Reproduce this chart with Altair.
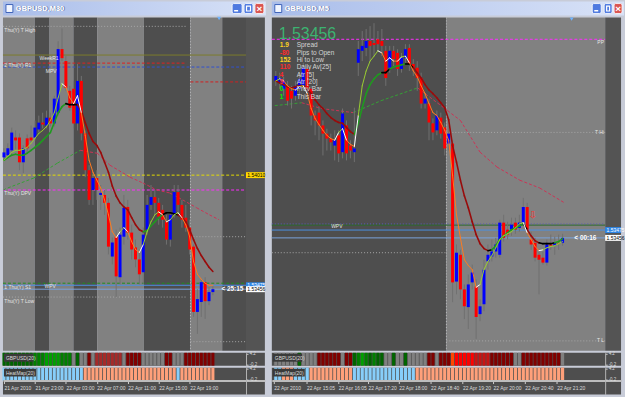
import json
import altair as alt
import pandas as pd

FONT = "Liberation Sans"

# ======================= LEFT WINDOW : GBPUSD,M30 =======================
L_title = "GBPUSD,M30"
L_open = [1.54090, 1.54100, 1.54124, 1.54186, 1.54186, 1.54066, 1.54182, 1.54186, 1.54186, 1.54225,
          1.54258, 1.54244, 1.54282, 1.54254, 1.54306, 1.54614, 1.54556, 1.54412, 1.54422, 1.54254,
          1.54460, 1.54206, 1.54028, 1.53932, 1.53990, 1.53908, 1.53908, 1.53870, 1.53610, 1.53706,
          1.53510, 1.53706, 1.53850, 1.53726, 1.53654, 1.53596, 1.53534, 1.53740, 1.53860, 1.53898,
          1.53870, 1.53836, 1.53778, 1.53692, 1.53812, 1.53922, 1.53860, 1.53798, 1.53750, 1.53658,
          1.53342, 1.53390, 1.53486, 1.53394, 1.53438]
L_close = [1.54114, 1.54134, 1.54210, 1.54172, 1.54066, 1.54134, 1.54134, 1.54172, 1.54234, 1.54258,
           1.54249, 1.54282, 1.54254, 1.54374, 1.54614, 1.54570, 1.54426, 1.54330, 1.54254, 1.54460,
           1.54206, 1.54028, 1.53884, 1.53990, 1.53932, 1.53918, 1.53870, 1.53658, 1.53678, 1.53514,
           1.53716, 1.53846, 1.53726, 1.53644, 1.53596, 1.53524, 1.53716, 1.53860, 1.53898, 1.53870,
           1.53802, 1.53788, 1.53692, 1.53812, 1.53922, 1.53860, 1.53788, 1.53750, 1.53644, 1.53342,
           1.53404, 1.53486, 1.53394, 1.53438, 1.53452]
L_high = [1.54134, 1.54158, 1.54234, 1.54220, 1.54206, 1.54148, 1.54201, 1.54244, 1.54268, 1.54292,
          1.54306, 1.54316, 1.54306, 1.54388, 1.54652, 1.54714, 1.54580, 1.54436, 1.54460, 1.54542,
          1.54484, 1.54220, 1.54052, 1.54018, 1.54028, 1.53956, 1.53932, 1.53894, 1.53702, 1.53740,
          1.53750, 1.53908, 1.53884, 1.53764, 1.53692, 1.53644, 1.53750, 1.53908, 1.53956, 1.53932,
          1.53894, 1.53860, 1.53812, 1.53826, 1.53956, 1.53956, 1.53884, 1.53860, 1.53788, 1.53668,
          1.53452, 1.53500, 1.53510, 1.53462, 1.53466]
L_low = [1.54076, 1.54086, 1.54100, 1.54124, 1.54028, 1.54014, 1.54114, 1.54162, 1.54172, 1.54210,
         1.54230, 1.54230, 1.54239, 1.54239, 1.54292, 1.54556, 1.54412, 1.54316, 1.54230, 1.54220,
         1.54172, 1.53994, 1.53860, 1.53860, 1.53884, 1.53836, 1.53812, 1.53620, 1.53572, 1.53414,
         1.53476, 1.53668, 1.53692, 1.53596, 1.53558, 1.53476, 1.53476, 1.53716, 1.53836, 1.53812,
         1.53764, 1.53750, 1.53668, 1.53658, 1.53798, 1.53826, 1.53750, 1.53730, 1.53620, 1.53318,
         1.53236, 1.53318, 1.53308, 1.53375, 1.53423]
L_slow = [1.54076, 1.54090, 1.54100, 1.54105, 1.54100, 1.54100, 1.54110, 1.54124, 1.54138, 1.54153,
          1.54172, 1.54191, 1.54210, 1.54258, 1.54306, 1.54335, 1.54350, 1.54345, 1.54345, 1.54345,
          1.54316, 1.54258, 1.54206, 1.54167, 1.54148, 1.54114, 1.54066, 1.54018, 1.53951, 1.53903,
          1.53870, 1.53850, 1.53836, 1.53798, 1.53764, 1.53740, 1.53730, 1.53735, 1.53759, 1.53778,
          1.53798, 1.53812, 1.53822, 1.53822, 1.53817, 1.53812, 1.53798, 1.53778, 1.53740, 1.53692,
          1.53649, 1.53615, 1.53586, 1.53558, 1.53538]
L_slow_runs = [("g", 16), ("k", 3), ("r", 17), ("g", 5), ("k", 4), ("r", 9)]
L_fast = [1.54076, 1.54095, 1.54114, 1.54124, 1.54124, 1.54129, 1.54138, 1.54158, 1.54182, 1.54206,
          1.54220, 1.54239, 1.54268, 1.54306, 1.54378, 1.54446, 1.54431, 1.54378, 1.54350, 1.54388,
          1.54306, 1.54196, 1.54076, 1.54018, 1.53980, 1.53942, 1.53884, 1.53812, 1.53730, 1.53702,
          1.53730, 1.53750, 1.53730, 1.53682, 1.53644, 1.53630, 1.53668, 1.53730, 1.53778, 1.53812,
          1.53826, 1.53812, 1.53778, 1.53788, 1.53812, 1.53822, 1.53798, 1.53764, 1.53706, 1.53586,
          1.53524, 1.53500, 1.53481, 1.53471, 1.53471]
L_ma3_x = [-0.2, 1.0, 7.7, 13.8, 19.7, 24.1, 27.4, 32.6, 35.9, 39.5, 42.8, 46.2, 49.8, 53.1, 55.6]
L_ma3_p = [1.53932, 1.53942, 1.53990, 1.54062, 1.54124, 1.54110, 1.54052, 1.53994, 1.53966, 1.53932,
           1.53918, 1.53884, 1.53846, 1.53812, 1.53788]
L_ma3_runs = [("g", 4), ("r", 10)]
L_band_from = [-0.26, 7.95, 11.79, 17.95, 24.10, 36.15, 48.21, 56.41]
L_band_to = [7.95, 11.79, 17.95, 24.10, 36.15, 48.21, 56.41, 62.56]
L_band_kind = ["L", "D", "L", "D", "L", "D", "L", "D"]
L_lvl_price = [1.54724, 1.54585, 1.54546, 1.54527, 1.54455, 1.54004, 1.53932, 1.53706, 1.53481,
               1.53471, 1.53452, 1.53414, 1.53198]
L_lvl_from = [-0.26, -0.26, -0.26, -0.26, 48.21, -0.26, -0.26, 48.21, -0.26, -0.26, -0.26, -0.26, 48.21]
L_lvl_to = [47.2, 62.56, 47.2, 62.56, 62.56, 62.56, 62.56, 62.56, 62.56, 62.56, 62.56, 47.2, 62.56]
L_lvl_color = ["#a8a8a8", "#7c7c2c", "#e02020", "#3050d0", "#d02020", "#e6de00", "#ff2cff", "#a8a8a8",
               "#1f8f1f", "#4a90e2", "#7aa3dc", "#a8a8a8", "#a8a8a8"]
L_lvl_style = ["dot", "solid", "dash", "dash", "dash", "dash", "dash", "dot", "dash", "solid", "solid",
               "dot", "dot"]
L_lab_text = ["Thu(Y) T High", "WeekR1", "2 Thu(Y) R1", "MPV", "Thu(Y) DPV", "1 Thu(Y) S1", "WPV",
              "Thu(Y) T Low"]
L_lab_x = [0.1, 9.2, 0.1, 10.8, 0.1, 0.1, 10.5, 0.1]
L_lab_p = [1.54705, 1.54570, 1.54537, 1.54508, 1.53918, 1.53462, 1.53466, 1.53394]
L_ticks = [1.54690, 1.54615, 1.54540, 1.54465, 1.54390, 1.54315, 1.54235, 1.54160, 1.54085, 1.53935,
           1.53860, 1.53780, 1.53700, 1.53625, 1.53550, 1.53400, 1.53325, 1.53245, 1.53165]
L_tag_p = [1.54004, 1.53471, 1.53452]
L_tag_t = ["1.54010", "1.53475", "1.53456"]
L_tag_bg = ["#ffd800", "#2f86e6", "#ffffff"]
L_tag_fg = ["#000000", "#ffffff", "#000000"]
L_clock = ("<  25:15", 56.2, 1.53452)
L_marker = (55.6, 1.54762)
L_strip1_runs = [("G", 8), ("g", 3), ("l", 4), ("g", 3), ("x", 1), ("G", 1), ("x", 2), ("r", 1), ("x", 1),
                 ("b", 7), ("x", 1), ("r", 4), ("x", 6), ("r", 2), ("x", 3), ("r", 8)]
L_strip2_runs = [("c", 21), ("s", 24), ("c", 1), ("s", 9)]
L_date_pos = [0, 8, 16, 24, 32, 40, 48]
L_date_lab = ["21 Apr 2010", "21 Apr 23:00", "22 Apr 03:00", "22 Apr 07:00", "22 Apr 11:00",
              "22 Apr 15:00", "22 Apr 19:00"]

# ======================= RIGHT WINDOW : GBPUSD,M5 =======================
R_title = "GBPUSD,M5"
R_open = [1.53833, 1.53828, 1.53814, 1.53821, 1.53809, 1.53797, 1.53814, 1.53821, 1.53862, 1.53814,
          1.53749, 1.53756, 1.53725, 1.53705, 1.53693, 1.53676, 1.53701, 1.53660, 1.53725, 1.53676,
          1.53660, 1.53877, 1.53906, 1.53913, 1.53930, 1.53925, 1.53934, 1.53930, 1.53906, 1.53865,
          1.53906, 1.53901, 1.53862, 1.53889, 1.53913, 1.53874, 1.53865, 1.53840, 1.53778, 1.53778,
          1.53730, 1.53713, 1.53744, 1.53720, 1.53681, 1.53681, 1.53346, 1.53411, 1.53327, 1.53284,
          1.53344, 1.53334, 1.53267, 1.53291, 1.53395, 1.53407, 1.53419, 1.53411, 1.53489, 1.53472,
          1.53472, 1.53489, 1.53476, 1.53489, 1.53527, 1.53448, 1.53440, 1.53411, 1.53404, 1.53392,
          1.53436, 1.53433, 1.53440, 1.53440]
R_close = [1.53845, 1.53840, 1.53833, 1.53785, 1.53790, 1.53821, 1.53838, 1.53865, 1.53814, 1.53749,
           1.53737, 1.53725, 1.53705, 1.53693, 1.53684, 1.53689, 1.53657, 1.53754, 1.53657, 1.53664,
           1.53669, 1.53910, 1.53918, 1.53930, 1.53918, 1.53920, 1.53922, 1.53918, 1.53840, 1.53906,
           1.53886, 1.53862, 1.53889, 1.53910, 1.53874, 1.53865, 1.53840, 1.53778, 1.53790, 1.53732,
           1.53708, 1.53749, 1.53705, 1.53669, 1.53705, 1.53344, 1.53416, 1.53327, 1.53286, 1.53339,
           1.53368, 1.53260, 1.53286, 1.53375, 1.53411, 1.53419, 1.53436, 1.53489, 1.53452, 1.53460,
           1.53484, 1.53472, 1.53489, 1.53527, 1.53472, 1.53436, 1.53404, 1.53399, 1.53392, 1.53436,
           1.53433, 1.53440, 1.53438, 1.53452]
R_high = [1.53857, 1.53853, 1.53843, 1.53833, 1.53821, 1.53833, 1.53853, 1.53877, 1.53869, 1.53821,
          1.53761, 1.53773, 1.53737, 1.53717, 1.53705, 1.53713, 1.53713, 1.53766, 1.53737, 1.53689,
          1.53768, 1.53930, 1.53954, 1.53959, 1.53966, 1.53973, 1.53954, 1.53959, 1.53918, 1.53918,
          1.53918, 1.53910, 1.53901, 1.53922, 1.53922, 1.53886, 1.53881, 1.53853, 1.53804, 1.53790,
          1.53742, 1.53761, 1.53756, 1.53732, 1.53725, 1.53689, 1.53436, 1.53423, 1.53339, 1.53363,
          1.53387, 1.53351, 1.53303, 1.53399, 1.53436, 1.53448, 1.53452, 1.53496, 1.53508, 1.53491,
          1.53501, 1.53501, 1.53508, 1.53549, 1.53537, 1.53467, 1.53452, 1.53423, 1.53419, 1.53448,
          1.53460, 1.53455, 1.53460, 1.53462]
R_low = [1.53821, 1.53814, 1.53797, 1.53773, 1.53766, 1.53785, 1.53797, 1.53809, 1.53797, 1.53725,
         1.53701, 1.53689, 1.53652, 1.53664, 1.53664, 1.53640, 1.53636, 1.53645, 1.53640, 1.53645,
         1.53636, 1.53845, 1.53881, 1.53893, 1.53881, 1.53893, 1.53906, 1.53893, 1.53821, 1.53853,
         1.53869, 1.53845, 1.53853, 1.53877, 1.53857, 1.53845, 1.53809, 1.53766, 1.53766, 1.53689,
         1.53689, 1.53701, 1.53693, 1.53652, 1.53664, 1.53296, 1.53315, 1.53303, 1.53255, 1.53231,
         1.53327, 1.53207, 1.53250, 1.53274, 1.53375, 1.53395, 1.53404, 1.53404, 1.53443, 1.53448,
         1.53457, 1.53462, 1.53467, 1.53481, 1.53460, 1.53423, 1.53395, 1.53315, 1.53387, 1.53385,
         1.53423, 1.53411, 1.53423, 1.53433]
R_slow = [1.53833, 1.53828, 1.53824, 1.53819, 1.53816, 1.53819, 1.53821, 1.53821, 1.53814, 1.53802,
          1.53787, 1.53775, 1.53766, 1.53754, 1.53744, 1.53737, 1.53732, 1.53730, 1.53720, 1.53710,
          1.53703, 1.53730, 1.53768, 1.53802, 1.53824, 1.53838, 1.53848, 1.53853, 1.53853, 1.53862,
          1.53867, 1.53869, 1.53872, 1.53874, 1.53874, 1.53865, 1.53853, 1.53840, 1.53824, 1.53811,
          1.53802, 1.53792, 1.53780, 1.53768, 1.53739, 1.53676, 1.53636, 1.53592, 1.53554, 1.53525,
          1.53491, 1.53460, 1.53438, 1.53426, 1.53421, 1.53423, 1.53433, 1.53448, 1.53457, 1.53464,
          1.53472, 1.53476, 1.53481, 1.53486, 1.53472, 1.53457, 1.53445, 1.53440, 1.53438, 1.53438,
          1.53438, 1.53440, 1.53443, 1.53450]
R_slow_runs = [("r", 20), ("g", 7), ("k", 2), ("g", 4), ("k", 2), ("r", 19), ("k", 1), ("g", 8),
               ("k", 1), ("r", 3), ("k", 4), ("g", 2)]
R_fast = [1.53833, 1.53838, 1.53833, 1.53821, 1.53814, 1.53811, 1.53819, 1.53821, 1.53802, 1.53766,
          1.53742, 1.53727, 1.53713, 1.53701, 1.53693, 1.53689, 1.53708, 1.53717, 1.53689, 1.53679,
          1.53674, 1.53749, 1.53821, 1.53857, 1.53881, 1.53893, 1.53906, 1.53901, 1.53881, 1.53889,
          1.53881, 1.53881, 1.53891, 1.53893, 1.53877, 1.53857, 1.53843, 1.53821, 1.53802, 1.53778,
          1.53756, 1.53749, 1.53732, 1.53713, 1.53689, 1.53604, 1.53508, 1.53452, 1.53399, 1.53385,
          1.53375, 1.53332, 1.53339, 1.53375, 1.53395, 1.53409, 1.53428, 1.53448, 1.53457, 1.53462,
          1.53467, 1.53476, 1.53486, 1.53489, 1.53464, 1.53448, 1.53431, 1.53421, 1.53423, 1.53428,
          1.53431, 1.53433, 1.53438, 1.53443]
R_ma3_x = [-0.25, 6.6, 11.6, 19.7, 26.8, 36.1, 43.7, 47.0, 52.0, 56.3, 62.1, 67.2, 73.5]
R_ma3_p = [1.53773, 1.53780, 1.53766, 1.53756, 1.53785, 1.53816, 1.53761, 1.53737, 1.53660, 1.53624,
           1.53592, 1.53573, 1.53537]
R_ma3_runs = [("g", 1), ("r", 2), ("g", 2), ("r", 7)]
R_band_from = [-1.01, 43.43]
R_band_to = [43.43, 83.84]
R_band_kind = ["D", "L"]
R_lvl_price = [1.53934, 1.53708, 1.53486, 1.53483, 1.53471, 1.53452, 1.53416, 1.53202]
R_lvl_from = [-1.01, 43.43, -1.01, -1.01, -1.01, -1.01, -1.01, 43.43]
R_lvl_to = [83.84, 83.84, 83.84, 83.84, 83.84, 83.84, 43.43, 83.84]
R_lvl_color = ["#ff2cff", "#a8a8a8", "#5a5ab8", "#2a6a2a", "#4a90e2", "#7aa3dc", "#a8a8a8", "#a8a8a8"]
R_lvl_style = ["dash", "dot", "dot", "solid", "solid", "solid", "dot", "dot"]
R_lab_text = ["WPV"]
R_lab_x = [14.1]
R_lab_p = [1.53481]
R_rlab_text = ["PP", "T Hi", "T L"]
R_rlab_p = [1.53927, 1.53708, 1.53204]
R_ticks = [1.53985, 1.53945, 1.53905, 1.53865, 1.53825, 1.53785, 1.53745, 1.53705, 1.53665, 1.53625,
           1.53585, 1.53545, 1.53505, 1.53425, 1.53385, 1.53345, 1.53305, 1.53265, 1.53225, 1.53185]
R_tag_p = [1.53471, 1.53452]
R_tag_t = ["1.53475", "1.53456"]
R_tag_bg = ["#2f86e6", "#ffffff"]
R_tag_fg = ["#ffffff", "#000000"]
R_clock = ("<  00:16", 76.0, 1.53452)
R_marker = (75.3, 1.53983)
R_arrow = ("\u21e9", 65.4, 1.53508)
R_strip1_runs = [("x", 6), ("G", 1), ("x", 4), ("r", 6), ("x", 1), ("r", 2), ("G", 1), ("g", 1), ("l", 1),
                 ("g", 1), ("G", 1), ("g", 1), ("G", 2), ("x", 2), ("G", 1), ("x", 2), ("G", 1), ("x", 5),
                 ("r", 2), ("x", 1), ("r", 3), ("o", 1), ("R", 5), ("m", 4), ("r", 6), ("x", 2), ("r", 10),
                 ("x", 1)]
R_strip2_runs = [("c", 2), ("s", 3), ("c", 4), ("s", 11), ("c", 16), ("s", 38)]
R_date_pos = [-0.5, 7.8, 15.9, 23.5, 31.3, 39.4, 47.5, 55.3, 63.4, 71.5]
R_date_lab = ["22 Apr 2010", "22 Apr 15:05", "22 Apr 16:05", "22 Apr 17:20", "22 Apr 18:00",
              "22 Apr 18:40", "22 Apr 19:20", "22 Apr 20:00", "22 Apr 20:40", "22 Apr 21:20"]
R_info_price = "1.53456"
R_info_value = ["1.9", "-80", "152", "110", "4", "9", "0", "1"]
R_info_vcolor = ["#ffd21f", "#ff2a2a", "#ffd21f", "#ff2a2a", "#ff2a2a", "#ff2a2a", "#00ee00", "#00ee00"]
R_info_label = ["Spread", "Pips to Open", "Hi to Low", "Daily Av[25]", "Atr [5]", "Atr [20]",
                "Prev Bar", "This Bar"]

# ======================= styling =======================
BAND_COL = {"L": "#818181", "D": "#4e4e4e"}
AXIS_BG = "#545454"
WICK = "#707070"
SLOW_COL = {"g": "#1f9a1f", "k": "#000000", "r": "#990b0b"}
MA3_COL = {"g": "#35a035", "r": "#cc3355"}
STRIP_COL = {"G": "#006400", "g": "#008000", "l": "#00a000", "x": "#808080", "r": "#800000",
             "b": "#a52a2a", "R": "#ff0000", "o": "#ff4500", "m": "#c81414", "c": "#87cefa",
             "s": "#ffa07a"}
DUMMY = pd.DataFrame({"k": [0]})


def runs_to_list(runs, cmap):
    out = []
    for code, n in runs:
        out += [cmap[code]] * n
    return out


def seg_df(xs, ys, cols):
    return pd.DataFrame({"x": list(xs[:-1]), "x2": list(xs[1:]), "y": list(ys[:-1]),
                         "y2": list(ys[1:]), "col": cols})


def fast_colors(v, up="#9acd32", dn="#ff7a1f", turn="#ffffff"):
    dirs, prev = [], 1
    for a, b in zip(v[:-1], v[1:]):
        d = 1 if b > a else (-1 if b < a else prev)
        dirs.append(d)
        prev = d
    cols = []
    for k, d in enumerate(dirs):
        if k > 0 and d != dirs[k - 1]:
            cols.append(turn)
        else:
            cols.append(up if d > 0 else dn)
    return cols


def main_panel(P):
    xs = alt.Scale(domain=P["xdom"], nice=False, zero=False)
    ys = alt.Scale(domain=P["ydom"], nice=False, zero=False)
    yax = alt.Axis(orient="right", offset=P["axoff"], values=P["ticks"], format=".5f",
                   labelFont=FONT, labelFontSize=5, labelColor="#ececec", labelPadding=1,
                   labelOverlap=False, labelFlush=False, tickColor="#d0d0d0", tickSize=2,
                   domainColor="#b4b4b4", domainWidth=1, grid=False, title=None, zindex=1)

    def X(f):
        return alt.X(f + ":Q", scale=xs, axis=None)

    def Y(f, ax=None):
        return alt.Y(f + ":Q", scale=ys, axis=ax)

    C = alt.Color("col:N", scale=None)
    layers = []
    bands = pd.DataFrame({"a": P["band_from"], "b": P["band_to"],
                          "col": [BAND_COL[k] for k in P["band_kind"]]})
    layers.append(alt.Chart(bands).mark_rect().encode(x=X("a"), x2=alt.X2("b:Q"), color=C))
    strip = pd.DataFrame({"a": [P["sep"]], "b": [P["xdom"][1]]})
    layers.append(alt.Chart(strip).mark_rect(color=AXIS_BG).encode(x=X("a"), x2=alt.X2("b:Q")))
    vs = pd.DataFrame({"x": [P["vsep"]]})
    layers.append(alt.Chart(vs).mark_rule(color="#b8b8b8", strokeDash=[1, 2], strokeWidth=1)
                  .encode(x=X("x")))

    # horizontal level lines
    lv = pd.DataFrame({"p": P["lvl_price"], "a": P["lvl_from"], "b": P["lvl_to"],
                       "col": P["lvl_color"], "st": P["lvl_style"]})
    for st in ["solid", "dash", "dot"]:
        sub = lv[lv.st == st]
        if len(sub) == 0:
            continue
        if st == "solid":
            mk = alt.Chart(sub).mark_rule(strokeWidth=1)
        elif st == "dash":
            mk = alt.Chart(sub).mark_rule(strokeWidth=1, strokeDash=[3, 2])
        else:
            mk = alt.Chart(sub).mark_rule(strokeWidth=1, strokeDash=[1, 2])
        layers.append(mk.encode(x=X("a"), x2=alt.X2("b:Q"), y=Y("p"), color=C))

    # slow dashed MA
    m3 = seg_df(P["ma3_x"], P["ma3_p"], runs_to_list(P["ma3_runs"], MA3_COL))
    layers.append(alt.Chart(m3).mark_rule(strokeWidth=1, strokeDash=[3, 2])
                  .encode(x=X("x"), x2=alt.X2("x2:Q"), y=Y("y"), y2=alt.Y2("y2:Q"), color=C))

    # candles
    n = len(P["open"])
    cd = pd.DataFrame({"i": list(range(n)), "o": P["open"], "h": P["high"], "l": P["low"],
                       "c": P["close"],
                       "col": ["#0000ff" if c >= o else "#ff0000"
                               for o, c in zip(P["open"], P["close"])]})
    layers.append(alt.Chart(cd).mark_rule(color=WICK, strokeWidth=1)
                  .encode(x=X("i"), y=Y("l", yax), y2=alt.Y2("h:Q")))
    layers.append(alt.Chart(cd).mark_rule(strokeWidth=3, strokeCap="butt")
                  .encode(x=X("i"), y=Y("o"), y2=alt.Y2("c:Q"), color=C))

    # moving averages
    idx = list(range(n))
    sl = seg_df(idx, P["slow"], runs_to_list(P["slow_runs"], SLOW_COL))
    layers.append(alt.Chart(sl).mark_rule(strokeWidth=1.6, strokeCap="round")
                  .encode(x=X("x"), x2=alt.X2("x2:Q"), y=Y("y"), y2=alt.Y2("y2:Q"), color=C))
    fa = seg_df(idx, P["fast"], fast_colors(P["fast"]))
    layers.append(alt.Chart(fa).mark_rule(strokeWidth=1, strokeCap="round")
                  .encode(x=X("x"), x2=alt.X2("x2:Q"), y=Y("y"), y2=alt.Y2("y2:Q"), color=C))

    # level labels
    lb = pd.DataFrame({"x": P["lab_x"], "p": P["lab_p"], "t": P["lab_text"]})
    layers.append(alt.Chart(lb).mark_text(align="left", baseline="middle", font=FONT, fontSize=5,
                                          color="#e6e6e6")
                  .encode(x=X("x"), y=Y("p"), text="t:N"))
    if P.get("rlab_text"):
        rb = pd.DataFrame({"x": [P["sep"] - 0.3] * len(P["rlab_text"]), "p": P["rlab_p"],
                           "t": P["rlab_text"]})
        layers.append(alt.Chart(rb).mark_text(align="right", baseline="middle", font=FONT,
                                              fontSize=5, color="#e6e6e6")
                      .encode(x=X("x"), y=Y("p"), text="t:N"))

    # price tags on the scale
    k = len(P["tag_p"])
    tg = pd.DataFrame({"p": P["tag_p"], "t": P["tag_t"], "bg": P["tag_bg"], "fg": P["tag_fg"],
                       "a": [P["sep"]] * k, "b": [P["xdom"][1]] * k,
                       "tx": [P["sep"] + 0.35] * k})
    layers.append(alt.Chart(tg).mark_rule(strokeWidth=6, strokeCap="butt")
                  .encode(x=X("a"), x2=alt.X2("b:Q"), y=Y("p"),
                          color=alt.Color("bg:N", scale=None)))
    layers.append(alt.Chart(tg).mark_text(align="left", baseline="middle", font=FONT, fontSize=5)
                  .encode(x=X("tx"), y=Y("p"), text="t:N", color=alt.Color("fg:N", scale=None)))

    # bar countdown
    ck = pd.DataFrame({"t": [P["clock"][0]], "x": [P["clock"][1]], "p": [P["clock"][2]]})
    layers.append(alt.Chart(ck).mark_text(align="left", baseline="middle", font=FONT, fontSize=6.5,
                                          fontWeight="bold", color="#ffffff")
                  .encode(x=X("x"), y=Y("p"), text="t:N"))
    # chart-shift marker
    mk = pd.DataFrame({"x": [P["marker"][0]], "p": [P["marker"][1]]})
    layers.append(alt.Chart(mk).mark_point(shape="triangle-down", filled=True, size=16,
                                           color="#6fb3ff", opacity=1)
                  .encode(x=X("x"), y=Y("p")))

    if P.get("arrow"):
        ar = pd.DataFrame({"t": [P["arrow"][0]], "x": [P["arrow"][1]], "p": [P["arrow"][2]]})
        layers.append(alt.Chart(ar).mark_text(align="center", baseline="middle", font="DejaVu Sans",
                                              fontSize=10, color="#ff3030")
                      .encode(x=X("x"), y=Y("p"), text="t:N"))

    if P.get("info_price"):
        one = alt.Chart(DUMMY)
        layers.append(one.mark_text(align="left", baseline="middle", font=FONT, fontSize=16,
                                    color="#3cb371")
                      .encode(x=alt.value(7), y=alt.value(17), text=alt.value(P["info_price"])))
        for r, (val, vcol, lab) in enumerate(zip(P["info_value"], P["info_vcolor"], P["info_label"])):
            yy = 28 + 7.4 * r
            layers.append(one.mark_text(align="left", baseline="middle", font=FONT, fontSize=6.6,
                                        fontWeight="bold", color=vcol)
                          .encode(x=alt.value(8), y=alt.value(yy), text=alt.value(val)))
            layers.append(one.mark_text(align="left", baseline="middle", font=FONT, fontSize=6.6,
                                        color="#d4d4d4")
                          .encode(x=alt.value(25), y=alt.value(yy), text=alt.value(lab)))

    return alt.layer(*layers).properties(width=P["width"], height=336)


def strip_panel(P, runs, label, dates=False):
    cols = runs_to_list(runs, STRIP_COL)
    n = len(cols)
    h = 27 if dates else 13
    ylo = -5.885 if dates else -0.5
    xs = alt.Scale(domain=P["xdom"], nice=False, zero=False)
    ys = alt.Scale(domain=[ylo, 4.5], nice=False, zero=False)
    yax = alt.Axis(orient="right", offset=P["axoff"], values=[4.2, -0.2],
                   labelExpr="datum.value > 1 ? '4.2' : '-0.2'", labelFont=FONT, labelFontSize=4.5,
                   labelColor="#dcdcdc", labelPadding=1, tickSize=2, tickColor="#d0d0d0",
                   domainColor="#b4b4b4", grid=False, title=None, zindex=1, labelOverlap=False,
                   labelFlush=False)
    if dates:
        expr = "{}[indexof({}, datum.value)]".format(json.dumps(P["date_lab"]),
                                                      json.dumps(P["date_pos"]))
        xax = alt.Axis(orient="bottom", offset=-14, values=P["date_pos"], labelExpr=expr,
                       labelAlign="left", labelBaseline="top", labelFont=FONT, labelFontSize=5,
                       labelColor="#dcdcdc", labelPadding=2, labelFlush=False, labelOverlap=False,
                       tickSize=3, tickColor="#d0d0d0", domainColor="#bdbdbd", domainWidth=2,
                       grid=False, title=None, zindex=1)
    else:
        xax = None
    df = pd.DataFrame({"i": list(range(n)), "col": cols, "top": [4.5] * n, "bot": [-0.5] * n})
    one = alt.Chart(DUMMY)
    bg = one.mark_rect(color="#4e4e4e").encode(x=alt.value(0), x2=alt.value(P["width"]),
                                               y=alt.value(0), y2=alt.value(h))
    bars = alt.Chart(df).mark_rule(strokeWidth=P["sw"], strokeCap="butt").encode(
        x=alt.X("i:Q", scale=xs, axis=xax), y=alt.Y("top:Q", scale=ys, axis=yax),
        y2=alt.Y2("bot:Q"), color=alt.Color("col:N", scale=None))
    lab_bg = one.mark_rect(color="#3a3a3a").encode(x=alt.value(1), x2=alt.value(3 + 2.75 * len(label)),
                                                   y=alt.value(1), y2=alt.value(9))
    lab = one.mark_text(align="left", baseline="middle", font=FONT, fontSize=5,
                        color="#dcdcdc").encode(x=alt.value(3), y=alt.value(5), text=alt.value(label))
    return alt.layer(bg, bars, lab_bg, lab).properties(width=P["width"], height=h)


def title_panel(w, title, bxs):
    one = alt.Chart(DUMMY)
    grad = {"gradient": "linear", "x1": 0, "x2": 1, "y1": 0, "y2": 0,
            "stops": [{"offset": 0, "color": "#a9bdea"}, {"offset": 1, "color": "#d8e2f7"}]}
    layers = [
        one.mark_rect(fill=grad).encode(x=alt.value(0), x2=alt.value(w), y=alt.value(0), y2=alt.value(14)),
        one.mark_rect(fill="#f2f6ff", stroke="#3d62b8", strokeWidth=1).encode(
            x=alt.value(3), x2=alt.value(10), y=alt.value(3), y2=alt.value(11)),
        one.mark_text(align="left", baseline="middle", font=FONT, fontSize=7.5, fontWeight="bold",
                      color="#6a7cab").encode(x=alt.value(14), y=alt.value(7.8), text=alt.value(title)),
        one.mark_text(align="left", baseline="middle", font=FONT, fontSize=7.5, fontWeight="bold",
                      color="#ffffff").encode(x=alt.value(13), y=alt.value(7), text=alt.value(title)),
    ]
    for k, (x0, x1) in enumerate(bxs):
        col = "#d9534f" if k == 2 else "#4f7ae0"
        layers.append(one.mark_rect(fill=col, stroke="#ffffff", strokeWidth=0.8, cornerRadius=1.5)
                      .encode(x=alt.value(x0), x2=alt.value(x1), y=alt.value(2), y2=alt.value(12)))
        if k == 0:
            layers.append(one.mark_rect(fill="#ffffff").encode(
                x=alt.value(x0 + 2), x2=alt.value(x0 + 6), y=alt.value(8.5), y2=alt.value(10)))
        elif k == 1:
            layers.append(one.mark_rect(fill="#4f7ae0", stroke="#ffffff", strokeWidth=1.2).encode(
                x=alt.value(x0 + 2.5), x2=alt.value(x1 - 2.5), y=alt.value(4.5), y2=alt.value(9.5)))
        else:
            layers.append(one.mark_text(align="center", baseline="middle", font=FONT, fontSize=10,
                                        fontWeight="bold", color="#ffffff").encode(
                x=alt.value((x0 + x1) / 2), y=alt.value(7.3), text=alt.value("\u00d7")))
    return alt.layer(*layers).properties(width=w, height=14)


LP = dict(xdom=[-0.26, 67.44], ydom=[1.53154, 1.54767], axoff=-19, width=264, sep=62.56, vsep=48.21,
          ticks=L_ticks, open=L_open, high=L_high, low=L_low, close=L_close, slow=L_slow,
          slow_runs=L_slow_runs, fast=L_fast, ma3_x=L_ma3_x, ma3_p=L_ma3_p, ma3_runs=L_ma3_runs,
          band_from=L_band_from, band_to=L_band_to, band_kind=L_band_kind, lvl_price=L_lvl_price,
          lvl_from=L_lvl_from, lvl_to=L_lvl_to, lvl_color=L_lvl_color, lvl_style=L_lvl_style,
          lab_text=L_lab_text, lab_x=L_lab_x, lab_p=L_lab_p, tag_p=L_tag_p, tag_t=L_tag_t,
          tag_bg=L_tag_bg, tag_fg=L_tag_fg, clock=L_clock, marker=L_marker, sw=3.1,
          date_pos=L_date_pos, date_lab=L_date_lab)
RP = dict(xdom=[-1.01, 87.88], ydom=[1.53178, 1.53987], axoff=-16, width=352, sep=83.84, vsep=43.43,
          ticks=R_ticks, open=R_open, high=R_high, low=R_low, close=R_close, slow=R_slow,
          slow_runs=R_slow_runs, fast=R_fast, ma3_x=R_ma3_x, ma3_p=R_ma3_p, ma3_runs=R_ma3_runs,
          band_from=R_band_from, band_to=R_band_to, band_kind=R_band_kind, lvl_price=R_lvl_price,
          lvl_from=R_lvl_from, lvl_to=R_lvl_to, lvl_color=R_lvl_color, lvl_style=R_lvl_style,
          lab_text=R_lab_text, lab_x=R_lab_x, lab_p=R_lab_p, rlab_text=R_rlab_text, rlab_p=R_rlab_p,
          tag_p=R_tag_p, tag_t=R_tag_t, tag_bg=R_tag_bg, tag_fg=R_tag_fg, clock=R_clock,
          marker=R_marker, arrow=R_arrow, info_price=R_info_price, info_value=R_info_value,
          info_vcolor=R_info_vcolor, info_label=R_info_label, sw=3.2,
          date_pos=R_date_pos, date_lab=R_date_lab)

left = alt.vconcat(
    title_panel(265, L_title, [(231, 241), (243, 252), (254, 263)]),
    main_panel(LP),
    strip_panel(LP, L_strip1_runs, "GBPUSD(20)"),
    strip_panel(LP, L_strip2_runs, "HeatMap(20)", dates=True),
    spacing=2, bounds="flush")
right = alt.vconcat(
    title_panel(355, R_title, [(323, 332), (335, 343), (345, 353)]),
    main_panel(RP),
    strip_panel(RP, R_strip1_runs, "GBPUSD(20)"),
    strip_panel(RP, R_strip2_runs, "HeatMap(20)", dates=True),
    spacing=2, bounds="flush")

chart = alt.hconcat(left, right, spacing=3).properties(
    background="#c8ccd8", padding={"left": 2, "top": 0, "right": 0, "bottom": 1}
).configure_view(strokeWidth=0)

chart.save("out.html", embed_options={"renderer": "svg", "actions": False})
